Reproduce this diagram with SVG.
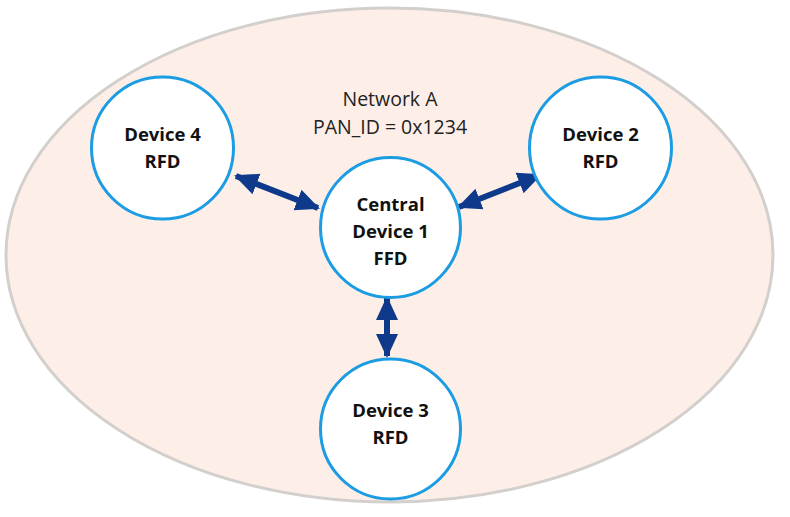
<svg xmlns="http://www.w3.org/2000/svg" width="790" height="517" viewBox="0 0 790 517">
<style>
.node{fill:#ffffff;stroke:#1c9ce2;stroke-width:3}
.lbl{font-family:"Open Sans","Liberation Sans",sans-serif;font-weight:bold;font-size:18.5px;fill:#111;text-anchor:middle}
.title{font-family:"Open Sans","Liberation Sans",sans-serif;font-size:19.5px;fill:#222;text-anchor:middle}
.conn{stroke:#0f3a8c;stroke-width:6;fill:none;marker-start:url(#ah);marker-end:url(#ah)}
</style>
<defs>
<marker id="ah" markerUnits="userSpaceOnUse" markerWidth="24" markerHeight="24" viewBox="0 0 24 24" refX="22" refY="12" orient="auto-start-reverse">
<path d="M0,1 L24,12 L0,23 Z" fill="#0f3a8c"/>
</marker>
</defs>
<rect width="790" height="517" fill="#ffffff"/>
<g id="network">
<ellipse cx="389.5" cy="255" rx="383.5" ry="247" fill="#fdefe7" stroke="#d3cfcd" stroke-width="3"/>
<text class="title" x="390" y="106">Network A</text>
<text class="title" x="390" y="134">PAN_ID = 0x1234</text>
</g>
<g id="connectors">
<line class="conn" x1="236" y1="176" x2="318" y2="208"/>
<line class="conn" x1="459" y1="207" x2="540" y2="175"/>
<line class="conn" x1="387" y1="298" x2="387" y2="356"/>
</g>
<g id="device4">
<circle class="node" cx="162.5" cy="148" r="71"/>
<text class="lbl" x="162.5" y="141">Device 4</text>
<text class="lbl" x="162.5" y="168">RFD</text>
</g>
<g id="device2">
<circle class="node" cx="600.5" cy="148" r="71"/>
<text class="lbl" x="600.5" y="141">Device 2</text>
<text class="lbl" x="600.5" y="168">RFD</text>
</g>
<g id="central">
<circle class="node" cx="390.5" cy="227.5" r="70"/>
<text class="lbl" x="390.5" y="211">Central</text>
<text class="lbl" x="390.5" y="238">Device 1</text>
<text class="lbl" x="390.5" y="265">FFD</text>
</g>
<g id="device3">
<circle class="node" cx="390.5" cy="429" r="70"/>
<text class="lbl" x="390.5" y="417">Device 3</text>
<text class="lbl" x="390.5" y="444">RFD</text>
</g>
</svg>
